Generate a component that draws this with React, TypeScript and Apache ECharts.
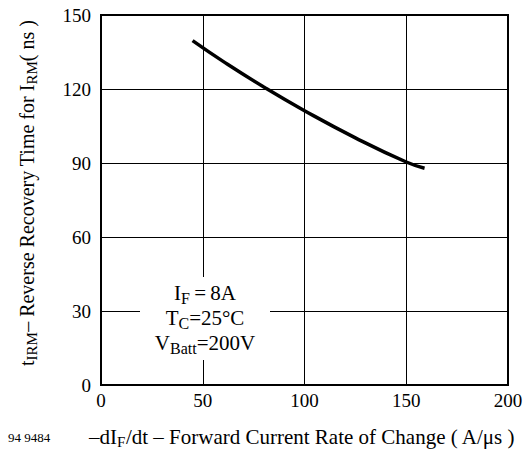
import React, { useEffect, useRef } from "react";
import * as echarts from "echarts";

const xValues = [45, 60, 80, 100, 125, 150, 159];
const yValues = [139.6, 131.2, 120.8, 111.2, 100.2, 90.4, 87.9];
const xTicks = [0, 50, 100, 150, 200];
const yTicks = [0, 30, 60, 90, 120, 150];
const figureId = "94 9484";

const FONT = "'Liberation Serif', 'Times New Roman', serif";

export default function App() {
  const ref = useRef<HTMLDivElement>(null);
  useEffect(() => {
    document.body.style.margin = "0";
    const chart = echarts.init(ref.current!, null, { renderer: "svg" });
    const sub = (fs: number, pad: number) => ({ fontSize: fs, fontFamily: FONT, color: "#000", padding: [pad, 0, 0, 0] });
    const nor = (fs: number) => ({ fontSize: fs, fontFamily: FONT, color: "#000" });
    chart.setOption({
      animation: false,
      backgroundColor: "#fff",
      grid: {
        left: 101,
        top: 15,
        width: 407,
        height: 370,
        show: true,
        borderColor: "#000",
        borderWidth: 2,
        containLabel: false,
      },
      xAxis: {
        type: "value",
        min: 0,
        max: 200,
        interval: 50,
        axisLine: { show: true, lineStyle: { color: "#000", width: 2 } },
        axisTick: { show: false },
        axisLabel: {
          color: "#000",
          fontFamily: FONT,
          fontSize: 19,
          margin: 6,
          formatter: (v: number) => (xTicks.includes(v) ? String(v) : ""),
        },
        splitLine: { show: true, lineStyle: { color: "#000", width: 1 } },
      },
      yAxis: {
        type: "value",
        min: 0,
        max: 150,
        interval: 30,
        axisLine: { show: true, lineStyle: { color: "#000", width: 2 } },
        axisTick: { show: false },
        axisLabel: {
          color: "#000",
          fontFamily: FONT,
          fontSize: 19,
          margin: 10,
          formatter: (v: number) => (yTicks.includes(v) ? String(v) : ""),
        },
        splitLine: { show: true, lineStyle: { color: "#000", width: 1 } },
      },
      series: [
        {
          type: "line",
          data: xValues.map((x, i) => [x, yValues[i]]),
          smooth: true,
          showSymbol: false,
          lineStyle: { color: "#000", width: 3.5 },
          z: 5,
        },
      ],
      graphic: [
        {
          type: "rect",
          shape: { x: 140, y: 277, width: 130, height: 83 },
          style: { fill: "#fff" },
          z: 10,
        },
        {
          type: "text",
          x: 205,
          y: 318,
          z: 11,
          style: {
            text: "{n|I}{s|F}{n|\u2009=\u20098A}\n{n|T}{s|C}{n|=25°C}\n{n|V}{s|Batt}{n|=200V}",
            align: "center",
            verticalAlign: "middle",
            lineHeight: 25,
            rich: { n: nor(21), s: sub(16, 10) },
          },
        },
        {
          type: "text",
          x: 302,
          y: 437,
          style: {
            text: "{n|–dI}{s|F}{n|/dt – Forward Current Rate of Change ( A/μs )}",
            align: "center",
            verticalAlign: "middle",
            rich: { n: nor(21), s: sub(15, 10) },
          },
        },
        {
          type: "text",
          x: 8,
          y: 437,
          style: {
            text: figureId,
            align: "left",
            verticalAlign: "middle",
            fontSize: 13,
            fontFamily: FONT,
            fill: "#000",
          },
        },
        {
          type: "text",
          x: 27,
          y: 193,
          rotation: Math.PI / 2,
          style: {
            text: "{n|t}{s|IRM}{n|– Reverse Recovery Time for I}{s|RM}{n|( ns )}",
            align: "center",
            verticalAlign: "middle",
            rich: { n: nor(20), s: sub(15, 10) },
          },
        },
      ],
    });
    return () => chart.dispose();
  }, []);
  return <div ref={ref} style={{ width: 526, height: 457 }} />;
}
